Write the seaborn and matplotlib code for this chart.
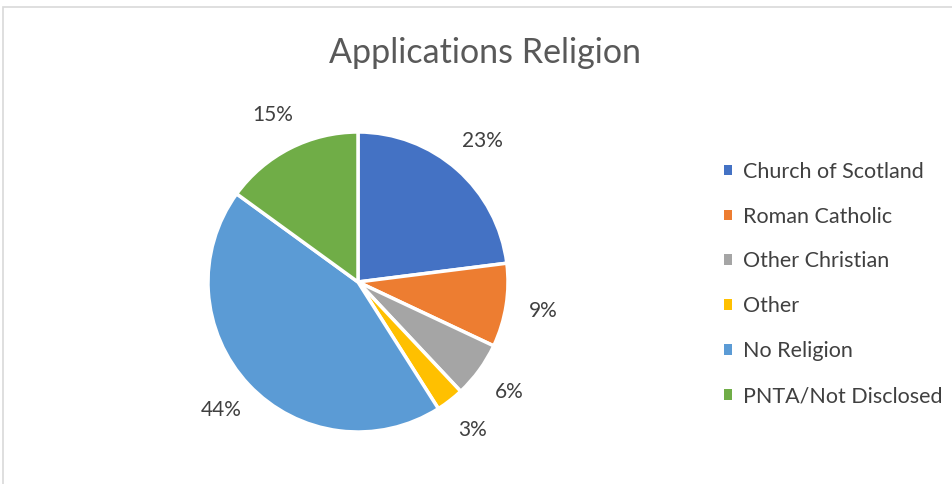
import matplotlib
matplotlib.use("Agg")
import matplotlib.pyplot as plt
from matplotlib.patches import Rectangle, Patch
import seaborn as sns

categories = ["Church of Scotland", "Roman Catholic", "Other Christian",
              "Other", "No Religion", "PNTA/Not Disclosed"]
shares = [23, 9, 6, 3, 44, 15]
pct_labels = ["23%", "9%", "6%", "3%", "44%", "15%"]
colors = ["#4472C4", "#ED7D31", "#A5A5A5", "#FFC000", "#5B9BD5", "#70AD47"]

sns.set_theme(style="white")
plt.rcParams["font.family"] = ["Lato", "DejaVu Sans"]

W, H = 953, 484
fig = plt.figure(figsize=(W / 100, H / 100), dpi=100)
fig.patch.set_facecolor("white")

# chart frame
fig.patches.append(Rectangle((3.5 / W, -0.1), 1.2, (H - 7.5) / H + 0.1,
                             transform=fig.transFigure, fill=False,
                             edgecolor="#D9D9D9", linewidth=1.2))

cx, cy, r = 358, H - 282, 150
ax = fig.add_axes([(cx - r) / W, (cy - r) / H, 2 * r / W, 2 * r / H])
wedges, texts = ax.pie(shares, labels=pct_labels, colors=colors,
                       startangle=90, counterclock=False,
                       labeldistance=1.25,
                       wedgeprops=dict(edgecolor="white", linewidth=2.5),
                       textprops=dict(fontsize=15, color="#404040"))
for t in texts:
    t.set_ha("center")
    t.set_va("center")
ax.set_xlim(-1, 1)
ax.set_ylim(-1, 1)
ax.set_aspect("equal")
ax.axis("off")

fig.text(485 / W, 1 - 53 / H, "Applications Religion", ha="center", va="center",
         fontsize=24.5, color="#595959")

handles = [Patch(facecolor=c, edgecolor="none") for c in colors]
leg = fig.legend(handles, categories, loc="upper left",
                 bbox_to_anchor=(713 / W, 1 - 151 / H), frameon=False,
                 fontsize=15.5, handlelength=0.38, handleheight=0.38,
                 handletextpad=0.5, labelspacing=1.155, borderpad=0)
for t in leg.get_texts():
    t.set_color("#404040")

fig.savefig("out.png", dpi=100)
